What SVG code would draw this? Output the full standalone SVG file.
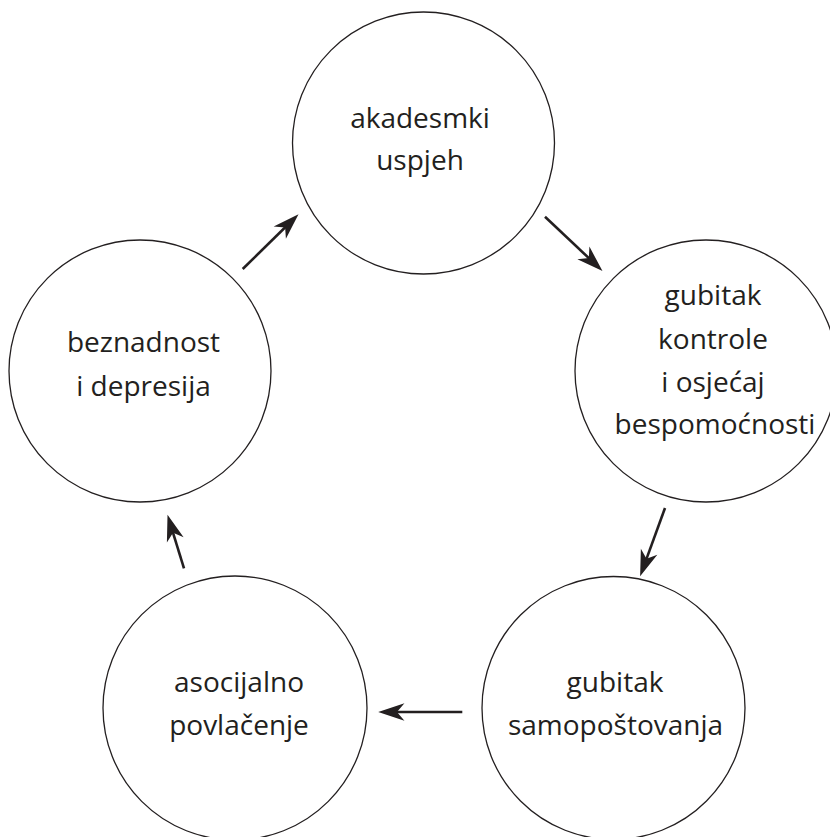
<svg xmlns="http://www.w3.org/2000/svg" width="830" height="837" viewBox="0 0 830 837">
<style>
.node circle{fill:#fff;stroke:#231f20;stroke-width:1.3}
.node text{font-family:"Open Sans","Noto Sans",sans-serif;font-weight:400;font-size:28px;fill:#231f20;text-anchor:middle}
.conn line{stroke:#231f20;stroke-width:2.6;fill:none;marker-end:url(#ah)}
</style>
<defs>
<marker id="ah" markerUnits="userSpaceOnUse" markerWidth="30" markerHeight="20" viewBox="-12 -8 24 16" refX="0" refY="0" orient="auto">
<path d="M10,0 L-11,-7 L-5,0 L-11,7 Z" fill="#231f20"/>
</marker>
</defs>
<rect width="830" height="837" fill="#fff"/>
<g id="n-akademski" class="node">
<circle cx="423.5" cy="143" r="131"/>
<text x="420" y="128">akadesmki</text>
<text x="420" y="170">uspjeh</text>
</g>
<g id="n-gubitak-kontrole" class="node">
<circle cx="706" cy="371" r="131"/>
<text x="713" y="305">gubitak</text>
<text x="713" y="349">kontrole</text>
<text x="713" y="392">i osjećaj</text>
<text x="715" y="434">bespomoćnosti</text>
</g>
<g id="n-samopostovanje" class="node">
<circle cx="613.5" cy="708" r="131.5"/>
<text x="615" y="692">gubitak</text>
<text x="615.5" y="735">samopoštovanja</text>
</g>
<g id="n-povlacenje" class="node">
<circle cx="235" cy="708" r="132"/>
<text x="239" y="692">asocijalno</text>
<text x="239" y="735">povlačenje</text>
</g>
<g id="n-beznadnost" class="node">
<circle cx="140" cy="371" r="131"/>
<text x="143.5" y="352">beznadnost</text>
<text x="143.5" y="396">i depresija</text>
</g>
<g id="connectors" class="conn">
<line x1="242.7" y1="269" x2="289.6" y2="223"/>
<line x1="545" y1="216.7" x2="593.4" y2="262.4"/>
<line x1="665" y1="508" x2="644.4" y2="564.6"/>
<line x1="462.3" y1="712" x2="390.7" y2="712"/>
<line x1="184" y1="568.3" x2="171.2" y2="526.8"/>
</g>
</svg>
